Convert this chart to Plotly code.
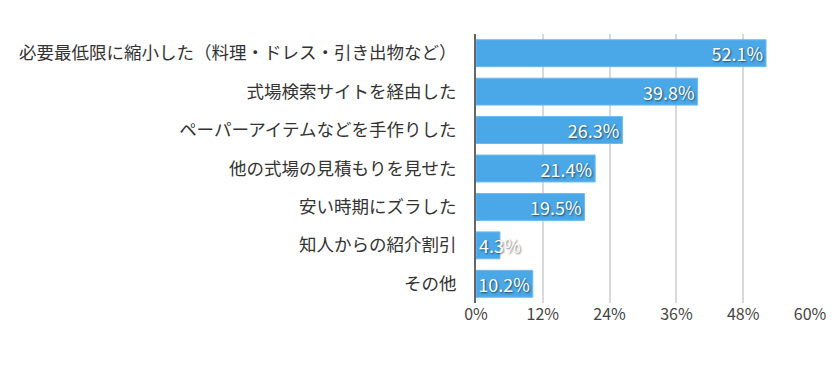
import plotly.graph_objects as go

categories = [
    "必要最低限に縮小した（料理・ドレス・引き出物など）",
    "式場検索サイトを経由した",
    "ペーパーアイテムなどを手作りした",
    "他の式場の見積もりを見せた",
    "安い時期にズラした",
    "知人からの紹介割引",
    "その他",
]
values = [52.1, 39.8, 26.3, 21.4, 19.5, 4.3, 10.2]
tick_vals = [0, 12, 24, 36, 48, 60]
tick_text = ["0%", "12%", "24%", "36%", "48%", "60%"]

MIN_INSIDE = 8  # values below this get their label drawn from the bar start
labels = [f"{v}%" for v in values]
bar_text = [t if v >= MIN_INSIDE else "" for t, v in zip(labels, values)]

label_font = dict(color="white", size=18, family="Noto Sans CJK JP",
                  shadow="1px 1px 2px rgba(0,0,0,0.6)")

fig = go.Figure()
fig.add_trace(go.Bar(
    y=categories,
    x=values,
    orientation="h",
    width=0.7,
    marker=dict(color="#4aa8e8", line=dict(color="#6cbaf0", width=1)),
    text=bar_text,
    textposition="inside",
    insidetextanchor="end",
    textangle=0,
    constraintext="none",
    textfont=label_font,
    cliponaxis=False,
    hoverinfo="skip",
))

for c, v, t in zip(categories, values, labels):
    if v < MIN_INSIDE:
        fig.add_annotation(x=0, y=c, text=t, xanchor="left", yanchor="middle",
                           xshift=1, showarrow=False, font=label_font)

fig.update_layout(
    width=840, height=374,
    margin=dict(l=468, r=38, t=26, b=79),
    paper_bgcolor="white", plot_bgcolor="white",
    showlegend=False,
    font=dict(family="Noto Sans CJK JP", color="#333"),
)
fig.update_xaxes(
    range=[0, 60], tickvals=tick_vals, ticktext=tick_text,
    showgrid=True, gridcolor="#d9d9d9", gridwidth=1.5,
    zeroline=False, showline=False, automargin=False,
    tickfont=dict(size=16, color="#444"), ticks="", ticklen=0,
)
fig.update_yaxes(
    categoryorder="array", categoryarray=categories, autorange="reversed",
    showgrid=False, showline=True, linecolor="#666", linewidth=2,
    automargin=False,
    tickfont=dict(size=17.5, color="#333"), ticks="", ticklabelstandoff=14,
)

fig.write_html("out.html")
